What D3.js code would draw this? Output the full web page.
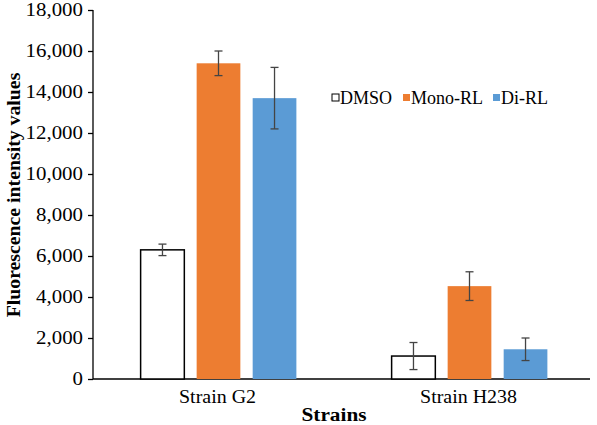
<!DOCTYPE html>
<html><head><meta charset="utf-8">
<script src="https://cdn.jsdelivr.net/npm/d3@7"></script>
<style>body{margin:0;background:#fff}</style>
</head><body>
<svg id="c" width="597" height="425"></svg>
<script>
const categories = ["Strain G2", "Strain H238"];
const seriesNames = ["DMSO", "Mono-RL", "Di-RL"];
const dmso = [6300, 1120];
const monoRL = [15400, 4530];
const diRL = [13700, 1450];
const dmsoErr = [280, 660];
const monoErr = [600, 700];
const diErr = [1500, 550];
const yTicks = [0, 2000, 4000, 6000, 8000, 10000, 12000, 14000, 16000, 18000];

const values = [dmso, monoRL, diRL];
const errs = [dmsoErr, monoErr, diErr];
const fills = ["#ffffff", "#ED7D31", "#5B9BD5"];
const strokes = ["#000", "none", "none"];

const svg = d3.select("#c");
const font = "'Liberation Serif','Times New Roman',serif";
const x0 = d3.scaleBand().domain(categories).range([93, 595]).paddingInner(0).paddingOuter(0);
const x1 = d3.scaleBand().domain(seriesNames).range([0, x0.bandwidth()]).paddingInner(0.22).paddingOuter(0.85);
const y = d3.scaleLinear().domain([0, 18000]).range([379, 10]);

function stretch(sel, sx) {
  sel.each(function() {
    const t = d3.select(this);
    const x = +t.attr("x") || 0;
    const yy = +t.attr("y") || 0;
    t.attr("x", 0).attr("y", 0).attr("transform", `translate(${x},${yy}) scale(${sx},1)`);
  });
}

const fmt = d3.format(",");
const yAxis = svg.append("g").attr("transform", "translate(93,0)")
  .call(d3.axisLeft(y).tickValues(yTicks).tickFormat(fmt).tickSize(5).tickPadding(5));
yAxis.selectAll("text").attr("font-family", font).attr("font-size", 18).attr("fill", "#000");
stretch(yAxis.selectAll("text"), 1.16);
yAxis.selectAll("line,path").attr("stroke", "#000").attr("stroke-width", 1.3);
yAxis.select(".domain").attr("d", "M0,10V379");

svg.append("line").attr("x1", 93).attr("x2", 590).attr("y1", 379).attr("y2", 379)
  .attr("stroke", "#000").attr("stroke-width", 1.3);

seriesNames.forEach((s, si) => {
  const g = svg.append("g");
  categories.forEach((c, ci) => {
    const v = values[si][ci];
    const bx = x0(c) + x1(s);
    g.append("rect").attr("x", bx).attr("y", y(v)).attr("width", x1.bandwidth())
      .attr("height", y(0) - y(v)).attr("fill", fills[si])
      .attr("stroke", strokes[si]).attr("stroke-width", 1.5);
    const cx = bx + x1.bandwidth() / 2;
    const e = errs[si][ci];
    const eg = g.append("g").attr("stroke", "#444").attr("stroke-width", 1.3);
    eg.append("line").attr("x1", cx).attr("x2", cx).attr("y1", y(v + e)).attr("y2", y(v - e));
    eg.append("line").attr("x1", cx - 4).attr("x2", cx + 4).attr("y1", y(v + e)).attr("y2", y(v + e));
    eg.append("line").attr("x1", cx - 4).attr("x2", cx + 4).attr("y1", y(v - e)).attr("y2", y(v - e));
  });
});

categories.forEach(c => {
  const t = svg.append("text").attr("x", x0(c) + x0.bandwidth() / 2 - 1).attr("y", 403)
    .attr("text-anchor", "middle").attr("font-family", font).attr("font-size", 19).text(c);
  stretch(t, 1.05);
});
const st = svg.append("text").attr("x", 334).attr("y", 421).attr("text-anchor", "middle")
  .attr("font-family", font).attr("font-size", 19).attr("font-weight", "bold").text("Strains");
stretch(st, 1.12);
svg.append("text").attr("transform", "translate(20,195) rotate(-90)").attr("text-anchor", "middle")
  .attr("font-family", font).attr("font-size", 19.8).attr("font-weight", "bold")
  .text("Fluorescence intensity values");

// legend
const legX = [332, 403, 493];
seriesNames.forEach((s, i) => {
  svg.append("rect").attr("x", legX[i]).attr("y", 94).attr("width", 7).attr("height", 7)
    .attr("fill", fills[i]).attr("stroke", strokes[i]).attr("stroke-width", 1);
  svg.append("text").attr("x", legX[i] + 8).attr("y", 104).attr("font-family", font)
    .attr("font-size", 18).text(s);
});
</script>
</body></html>
